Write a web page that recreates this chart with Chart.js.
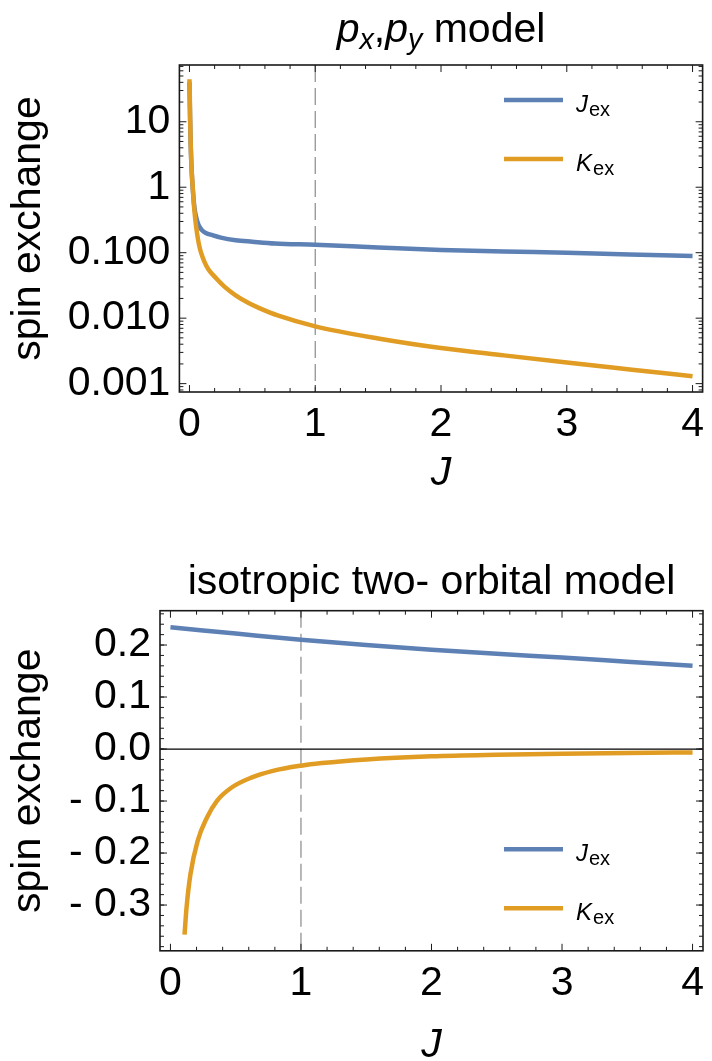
<!DOCTYPE html>
<html>
<head>
<meta charset="utf-8">
<script src="https://cdn.jsdelivr.net/npm/chart.js@4.4.1/dist/chart.umd.min.js"></script>
<style>
body { margin: 0; background: #fff; width: 712px; height: 1061px; position: relative; overflow: hidden; }
canvas { position: absolute; left: 0; }
#chartTop { top: 0; }
#chartBot { top: 530px; }
</style>
</head>
<body>
<canvas id="chartTop" width="712" height="530"></canvas>
<canvas id="chartBot" width="712" height="531"></canvas>
<script>
// upper panel: px,py model (log axis)
const pxJexJ   = [0, 0.005, 0.01, 0.018, 0.026, 0.033, 0.039, 0.05, 0.065, 0.079, 0.1, 0.13, 0.183, 0.25, 0.367, 0.5, 0.68, 1.0, 1.5, 2.0, 2.5, 3.0, 3.5, 4.0];
const pxJexVal = [40, 11, 4.2, 1.7, 0.95, 0.65, 0.5, 0.37, 0.29, 0.25, 0.22, 0.2, 0.185, 0.17, 0.155, 0.147, 0.138, 0.132, 0.12, 0.11, 0.104, 0.1, 0.094, 0.089];
const pxKexJ   = [0, 0.002, 0.005, 0.01, 0.015, 0.02, 0.026, 0.035, 0.045, 0.06, 0.075, 0.092, 0.12, 0.15, 0.21, 0.28, 0.367, 0.47, 0.56, 0.707, 1.0, 1.5, 2.0, 2.5, 3.0, 3.5, 4.0];
const pxKexVal = [44.5, 30, 12, 4.5, 2.3, 1.5, 1.0, 0.55, 0.34, 0.2, 0.135, 0.1, 0.072, 0.056, 0.041, 0.03, 0.0223, 0.017, 0.0141, 0.0109, 0.0075, 0.0049, 0.0035, 0.0027, 0.0021, 0.00165, 0.0013];

// lower panel: isotropic two-orbital model
const isoJexJ   = [0, 0.5, 1, 1.5, 2, 2.5, 3, 3.5, 4];
const isoJexVal = [0.234, 0.222, 0.210, 0.200, 0.191, 0.183, 0.176, 0.168, 0.160];
const isoKexJ   = [0.108, 0.123, 0.153, 0.208, 0.279, 0.355, 0.469, 0.62, 0.785, 1.0, 1.16, 1.5, 2.0, 2.5, 3.0, 3.5, 4.0];
const isoKexVal = [-0.357, -0.306, -0.241, -0.177, -0.132, -0.100, -0.074, -0.055, -0.042, -0.032, -0.027, -0.020, -0.014, -0.011, -0.009, -0.0075, -0.0065];

// ticks
const xTicks = [0, 1, 2, 3, 4];
const xMinor = [0.2, 0.4, 0.6, 0.8, 1.2, 1.4, 1.6, 1.8, 2.2, 2.4, 2.6, 2.8, 3.2, 3.4, 3.6, 3.8];
const topYTicks  = [0.001, 0.01, 0.1, 1, 10];
const topYLabels = ['0.001', '0.010', '0.100', '1', '10'];
const botYTicks  = [-0.3, -0.2, -0.1, 0, 0.1, 0.2];
const botYLabels = ['- 0.3', '- 0.2', '- 0.1', '0.0', '0.1', '0.2'];

const BLUE = '#5E81B5';
const ORANGE = '#E19C24';
const FONT = '"Liberation Sans", Arial, sans-serif';

function pts(xs, ys) {
    return xs.map((v, i) => ({x: v, y: ys[i]}));
}

function drawRuns(ctx, runs, cx, baseline, size) {
    let w = 0;
    runs.forEach(r => {
        let s = r.sub ? size * r.sub : size;
        ctx.font = (r.italic ? 'italic ' : '') + s + 'px ' + FONT;
        r.w = ctx.measureText(r.t).width;
        w += r.w;
    });
    let x = cx - w / 2;
    ctx.textAlign = 'left';
    ctx.textBaseline = 'alphabetic';
    runs.forEach(r => {
        let s = r.sub ? size * r.sub : size;
        ctx.font = (r.italic ? 'italic ' : '') + s + 'px ' + FONT;
        ctx.fillText(r.t, x, baseline + (r.sub ? r.drop : 0));
        x += r.w;
    });
}

const decor = {
    id: 'decor',
    beforeDatasetsDraw(chart, args, o) {
        const ctx = chart.ctx, a = chart.chartArea;
        const x = chart.scales.x, y = chart.scales.y;
        ctx.save();
        ctx.strokeStyle = '#8a8a8a';
        ctx.lineWidth = 1.2;
        ctx.setLineDash([17, 6]);
        let px = x.getPixelForValue(o.dashAt);
        ctx.beginPath();
        ctx.moveTo(px, a.top);
        ctx.lineTo(px, a.bottom);
        ctx.stroke();
        ctx.setLineDash([]);
        if (o.zeroLine) {
            let py = y.getPixelForValue(0);
            ctx.strokeStyle = '#000';
            ctx.lineWidth = 1.3;
            ctx.beginPath();
            ctx.moveTo(a.left, py);
            ctx.lineTo(a.right, py);
            ctx.stroke();
        }
        ctx.restore();
    },
    afterDatasetsDraw(chart, args, o) {
        const ctx = chart.ctx, a = chart.chartArea;
        const x = chart.scales.x, y = chart.scales.y;
        ctx.save();
        ctx.strokeStyle = '#1a1a1a';
        ctx.lineWidth = 1;
        ctx.beginPath();
        // x ticks, bottom and top
        xTicks.concat(xMinor).forEach(v => {
            let len = xTicks.includes(v) ? 7 : 4;
            let px = x.getPixelForValue(v);
            ctx.moveTo(px, a.bottom); ctx.lineTo(px, a.bottom - len);
            ctx.moveTo(px, a.top); ctx.lineTo(px, a.top + len);
        });
        // y ticks, left and right
        o.yMajor.forEach(v => {
            let py = y.getPixelForValue(v);
            ctx.moveTo(a.left, py); ctx.lineTo(a.left + 7, py);
            ctx.moveTo(a.right, py); ctx.lineTo(a.right - 7, py);
        });
        o.yMinor.forEach(v => {
            let py = y.getPixelForValue(v);
            if (py < a.top || py > a.bottom) return;
            ctx.moveTo(a.left, py); ctx.lineTo(a.left + 4, py);
            ctx.moveTo(a.right, py); ctx.lineTo(a.right - 4, py);
        });
        ctx.stroke();
        // frame
        ctx.lineWidth = 1.6;
        ctx.strokeRect(a.left, a.top, a.right - a.left, a.bottom - a.top);

        // legend
        o.legend.forEach(item => {
            ctx.strokeStyle = item.color;
            ctx.lineWidth = 4.5;
            ctx.beginPath();
            ctx.moveTo(504, item.y);
            ctx.lineTo(563, item.y);
            ctx.stroke();
            ctx.fillStyle = '#000';
            ctx.textAlign = 'left';
            ctx.textBaseline = 'alphabetic';
            ctx.font = 'italic 24px ' + FONT;
            ctx.fillText(item.sym, 576, item.y + 12);
            let w = ctx.measureText(item.sym).width;
            ctx.font = '20px ' + FONT;
            ctx.fillText('ex', 576 + w + 1, item.y + 16);
        });
        ctx.restore();
    },
    afterDraw(chart, args, o) {
        const ctx = chart.ctx, a = chart.chartArea;
        const cx = (a.left + a.right) / 2;
        ctx.save();
        ctx.fillStyle = '#000';
        drawRuns(ctx, o.title, cx, o.titleY, 41);
        // x axis title
        ctx.font = 'italic 41px ' + FONT;
        ctx.textAlign = 'center';
        ctx.textBaseline = 'alphabetic';
        ctx.fillText('J', cx, o.jY);
        // y axis title
        ctx.translate(40, (a.top + a.bottom) / 2);
        ctx.rotate(-Math.PI / 2);
        ctx.font = '41px ' + FONT;
        ctx.fillText('spin exchange', 0, 0);
        ctx.restore();
    }
};

function lineSet(label, data, color, order) {
    return {
        label: label,
        data: data,
        borderColor: color,
        backgroundColor: color,
        borderWidth: 4.5,
        pointRadius: 0,
        cubicInterpolationMode: 'monotone',
        fill: false,
        order: order
    };
}

function axisX(h) {
    return {
        type: 'linear',
        min: -0.08,
        max: 4.08,
        afterBuildTicks: s => { s.ticks = xTicks.map(v => ({value: v})); },
        afterFit: s => { s.height = h; },
        grid: {display: false, drawTicks: false},
        border: {display: false},
        ticks: {
            autoSkip: false, maxRotation: 0, padding: 8, color: '#000',
            font: {family: FONT, size: 41},
            callback: v => String(v)
        }
    };
}

let logMinor = [];
[0.0001, 0.001, 0.01, 0.1, 1, 10].forEach(d => {
    [2, 3, 4, 5, 6, 7, 8, 9].forEach(m => logMinor.push(d * m));
});
let linMinor = [];
for (let k = -19; k <= 13; k++) linMinor.push(k * 0.02);

new Chart(document.getElementById('chartTop'), {
    type: 'line',
    data: {
        datasets: [
            lineSet('Jex', pts(pxJexJ, pxJexVal), BLUE, 1),
            lineSet('Kex', pts(pxKexJ, pxKexVal), ORANGE, 0)
        ]
    },
    options: {
        responsive: false,
        animation: false,
        devicePixelRatio: 1,
        layout: {padding: {top: 65, right: 2.3, left: 0, bottom: 0}},
        scales: {
            x: axisX(138),
            y: {
                type: 'logarithmic',
                min: 0.000745,
                max: 73.6,
                afterBuildTicks: s => { s.ticks = topYTicks.map(v => ({value: v})); },
                afterFit: s => { s.width = 179.4; },
                grid: {display: false, drawTicks: false},
                border: {display: false},
                ticks: {
                    padding: 9, color: '#000',
                    font: {family: FONT, size: 41},
                    callback: (v, i) => topYLabels[i]
                }
            }
        },
        plugins: {
            legend: {display: false},
            tooltip: {enabled: false},
            decor: {
                dashAt: 1,
                zeroLine: false,
                yMajor: topYTicks,
                yMinor: logMinor,
                titleY: 42,
                jY: 485,
                title: [
                    {t: 'p', italic: true},
                    {t: 'x', italic: true, sub: 0.7, drop: 7},
                    {t: ','},
                    {t: 'p', italic: true},
                    {t: 'y', italic: true, sub: 0.7, drop: 7},
                    {t: ' model'}
                ],
                legend: [
                    {sym: 'J', color: BLUE, y: 100},
                    {sym: 'K', color: ORANGE, y: 159}
                ]
            }
        }
    },
    plugins: [decor]
});

new Chart(document.getElementById('chartBot'), {
    type: 'line',
    data: {
        datasets: [
            lineSet('Jex', pts(isoJexJ, isoJexVal), BLUE, 1),
            lineSet('Kex', pts(isoKexJ, isoKexVal), ORANGE, 0)
        ]
    },
    options: {
        responsive: false,
        animation: false,
        devicePixelRatio: 1,
        layout: {padding: {top: 80.7, right: 2.3, left: 0, bottom: 0}},
        scales: {
            x: axisX(110.2),
            y: {
                type: 'linear',
                min: -0.388,
                max: 0.266,
                afterBuildTicks: s => { s.ticks = botYTicks.map(v => ({value: v})); },
                afterFit: s => { s.width = 160; },
                grid: {display: false, drawTicks: false},
                border: {display: false},
                ticks: {
                    padding: 9, color: '#000',
                    font: {family: FONT, size: 41},
                    callback: (v, i) => botYLabels[i]
                }
            }
        },
        plugins: {
            legend: {display: false},
            tooltip: {enabled: false},
            decor: {
                dashAt: 1,
                zeroLine: true,
                yMajor: botYTicks,
                yMinor: linMinor,
                titleY: 64,
                jY: 527,
                title: [{t: 'isotropic two- orbital model'}],
                legend: [
                    {sym: 'J', color: BLUE, y: 319.3},
                    {sym: 'K', color: ORANGE, y: 378.3}
                ]
            }
        }
    },
    plugins: [decor]
});
</script>
</body>
</html>
